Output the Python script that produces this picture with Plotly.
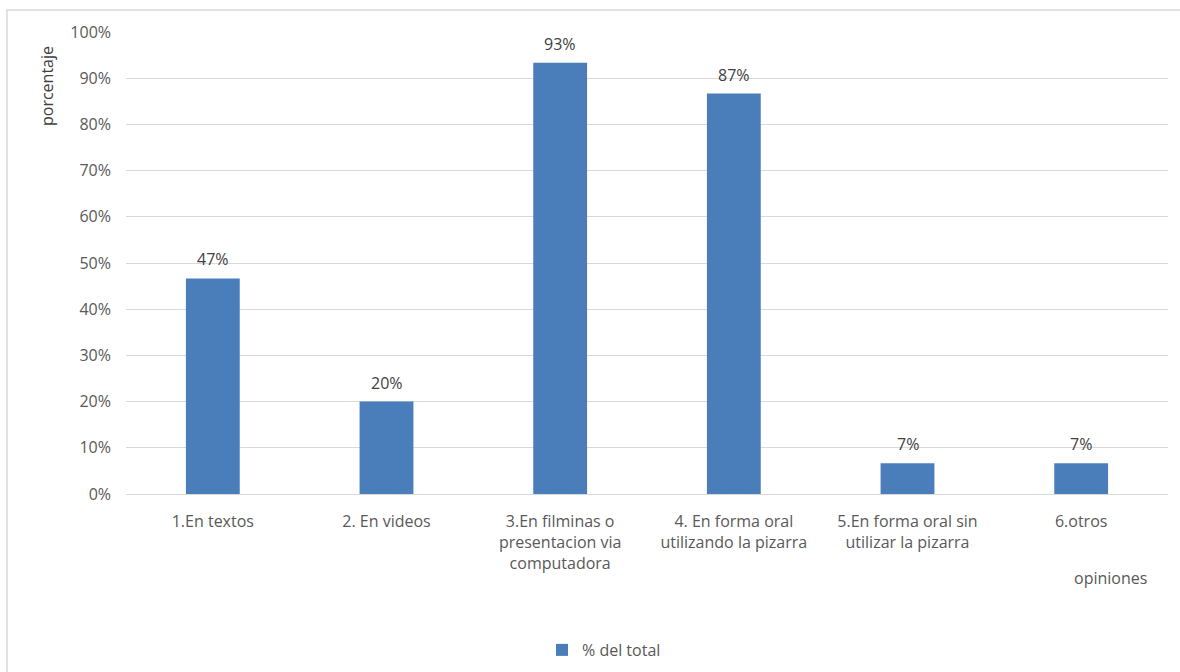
import plotly.graph_objects as go

categories = [
    "1.En textos",
    "2. En videos",
    "3.En filminas o<br>presentacion via<br>computadora",
    "4. En forma oral<br>utilizando la pizarra",
    "5.En forma oral sin<br>utilizar la pizarra",
    "6.otros",
]
values = [0.4667, 0.20, 0.9333, 0.8667, 0.0667, 0.0667]
series_name = "% del total"
y_ticks = [0, 0.1, 0.2, 0.3, 0.4, 0.5, 0.6, 0.7, 0.8, 0.9, 1.0]

FONT = "Open Sans, Liberation Sans, sans-serif"
GREY = "#595959"

x_pos = list(range(len(categories)))

fig = go.Figure()
fig.add_trace(go.Bar(
    x=x_pos,
    y=values,
    name=series_name,
    marker=dict(color="#4a7ebb", line=dict(width=0)),
    width=0.31,
    showlegend=True,
))

label_annotations = [
    dict(x=xp, y=v, xref="x", yref="y", text=f"{round(v*100)}%", showarrow=False,
         yanchor="bottom", yshift=6, font=dict(family=FONT, size=16, color="#404040"))
    for xp, v in zip(x_pos, values)
]

fig.update_layout(
    width=1180, height=672,
    margin=dict(l=126, r=12, t=32, b=178, autoexpand=False),
    paper_bgcolor="white", plot_bgcolor="white",
    font=dict(family=FONT, size=16, color=GREY),
    showlegend=True,
    legend=dict(orientation="h", x=(604 - 126) / 1042, xanchor="center", y=-(650 - 494) / 462,
                yanchor="middle", font=dict(family=FONT, size=16, color=GREY), itemwidth=30),
    xaxis=dict(
        tickmode="array", tickvals=x_pos, ticktext=categories,
        range=[-0.5, len(categories) - 0.5],
        showgrid=False, zeroline=False, showline=False, ticks="",
        ticklabelstandoff=16, automargin=False,
        tickfont=dict(family=FONT, size=16, color=GREY),
    ),
    yaxis=dict(
        range=[0, 1.0], tickvals=y_ticks, tickformat=".0%",
        showgrid=True, gridcolor="#d9d9d9", gridwidth=1,
        zeroline=True, zerolinecolor="#d9d9d9", zerolinewidth=1,
        showline=False, ticks="", ticklen=0,
        ticklabelstandoff=14, automargin=False,
        tickfont=dict(family=FONT, size=16, color=GREY),
    ),
    shapes=[dict(type="rect", xref="paper", yref="paper",
                 x0=-119/1042, x1=1.2, y0=-1.0, y1=1 + 22/462,
                 line=dict(color="#d9d9d9", width=1.5), fillcolor="rgba(0,0,0,0)", layer="below")],
    annotations=label_annotations + [
        dict(text="porcentaje", xref="paper", yref="paper", x=-79/1042, y=1 - 12/462,
             xanchor="center", yanchor="top", textangle=-90, showarrow=False,
             font=dict(family=FONT, size=16, color="#404040")),
        dict(text="opiniones", xref="paper", yref="paper", x=(1110 - 126)/1042, y=-(578 - 494)/462,
             xanchor="center", yanchor="middle", showarrow=False,
             font=dict(family=FONT, size=16, color=GREY)),
    ],
)

fig.write_html("out.html")
